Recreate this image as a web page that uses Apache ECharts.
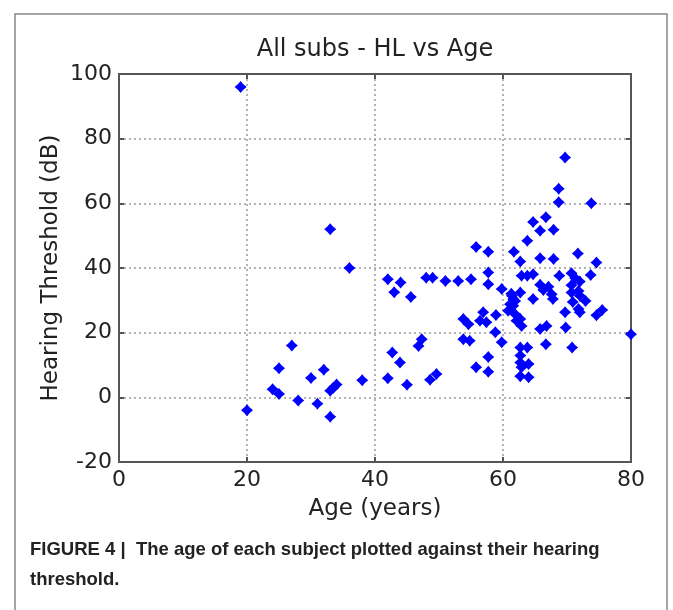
<!DOCTYPE html>
<html>
<head>
<meta charset="utf-8">
<script src="https://cdn.jsdelivr.net/npm/echarts@6/dist/echarts.min.js"></script>
<style>
html,body{margin:0;padding:0;background:#fff;}
#chart{width:673px;height:610px;}
</style>
</head>
<body>
<div id="chart"></div>
<script>
// Age (years) of each subject
const ages = [
  19, 20, 24, 25, 25, 27, 28, 30, 31, 32,
  33, 33, 33.5, 34, 33, 36, 38, 42, 45, 48.6,
  49.6, 42, 43, 44, 45.6, 42.7, 43.9, 46.8, 47.3, 48,
  49, 51, 53, 55, 53.8, 54.6, 53.8, 54.8, 55.8, 55.8,
  56.4, 56.9, 57.4, 57.7, 57.7, 57.7, 57.7, 57.7, 58.8, 58.9,
  59.8, 59.8, 60.8, 61.4, 61.9, 61.1, 62.7, 61.6, 61.6, 61.7,
  62.7, 61.9, 62.1, 62.7, 62.9, 62.7, 63.8, 62.7, 62.7, 64,
  62.9, 62.7, 64, 62.9, 63.8, 64.7, 61.3, 63.8, 64.7, 65.8,
  66.7, 67.9, 65.8, 67.9, 68.7, 68.7, 69.7, 73.8, 71.7, 74.6,
  68.8, 73.7, 70.7, 71.3, 72, 65.8, 66.3, 67.1, 67.6, 67.8,
  64.7, 70.7, 70.7, 71.8, 70.9, 72, 72.9, 71.8, 72, 69.7,
  74.6, 75.5, 65.8, 66.8, 66.7, 69.8, 70.8, 80
];
// Hearing threshold (dB) of each subject
const thresholds = [
  96, -4, 2.5, 1, 9, 16, -1, 6, -2, 8.5,
  -6, 2, 3, 4, 52, 40, 5.3, 5.9, 3.9, 5.4,
  7.2, 36.5, 32.5, 35.5, 31, 13.9, 10.8, 15.9, 18, 37,
  37, 36, 36, 36.5, 24.2, 22.6, 18, 17.5, 9.3, 46.5,
  23.7, 26.3, 23.2, 12.5, 7.9, 35, 38.6, 45, 20.1, 25.5,
  17, 33.5, 26.8, 31.4, 29.8, 28.8, 32.4, 30.4, 28.3, 45,
  42, 25.7, 23.7, 24.2, 22.1, 15.4, 15.4, 12.9, 10.8, 10.3,
  9.3, 6.5, 6.2, 37.6, 37.6, 38.1, 32, 48.4, 54.2, 51.5,
  55.7, 51.8, 43, 42.8, 64.5, 60.3, 74.2, 60, 44.5, 41.7,
  37.6, 37.8, 38.4, 36.8, 35.8, 34.8, 33.2, 34.2, 31.9, 30.4,
  30.4, 34.7, 32.4, 32.9, 29.5, 31.4, 29.8, 27.3, 26.3, 26.3,
  25.4, 27, 21.1, 22.1, 16.4, 21.6, 15.4, 19.5
];
const xTicks = [0, 20, 40, 60, 80];
const yTicks = [-20, 0, 20, 40, 60, 80, 100];

const points = ages.map((a, i) => [a, thresholds[i]]);
const FONT = '"DejaVu Sans", Arial, Helvetica, sans-serif';
const CAPFONT = '"Liberation Sans", Arial, Helvetica, sans-serif';
const axisColor = '#555';
const star = 'path://M0,-1 Q0.42,-0.42 1,0 Q0.42,0.42 0,1 Q-0.42,0.42 -1,0 Q-0.42,-0.42 0,-1 Z';

const chart = echarts.init(document.getElementById('chart'), null, {renderer: 'canvas'});
const baseX = {
  type: 'value', min: xTicks[0], max: xTicks[xTicks.length - 1], interval: 20
};
const baseY = {
  type: 'value', min: yTicks[0], max: yTicks[yTicks.length - 1], interval: 20
};
const lineAx = {show: true, onZero: false, lineStyle: {color: axisColor, width: 2}};
const tickAx = {show: true, inside: true, length: 5, lineStyle: {color: axisColor, width: 2}};
chart.setOption({
  animation: false,
  backgroundColor: '#fff',
  title: {
    text: 'All subs - HL vs Age',
    left: 370, top: 33, textAlign: 'center',
    textStyle: {fontFamily: FONT, fontSize: 24, fontWeight: 'normal', color: '#222'}
  },
  grid: {left: 119, top: 74, right: 42, bottom: 148, containLabel: false},
  xAxis: [
    Object.assign({}, baseX, {
      position: 'bottom',
      name: 'Age (years)', nameLocation: 'middle', nameGap: 36,
      nameTextStyle: {fontFamily: FONT, fontSize: 23, color: '#222'},
      axisLine: lineAx, axisTick: tickAx,
      axisLabel: {fontFamily: FONT, fontSize: 22, color: '#222', margin: 7},
      splitLine: {show: true, lineStyle: {color: '#9a9a9a', type: [2, 3], width: 1.5}}
    }),
    Object.assign({}, baseX, {
      position: 'top',
      axisLine: lineAx, axisTick: tickAx,
      axisLabel: {show: false},
      splitLine: {show: false}
    })
  ],
  yAxis: [
    Object.assign({}, baseY, {
      position: 'left',
      name: 'Hearing Threshold (dB)', nameLocation: 'middle', nameGap: 56, nameRotate: 90,
      nameMoveOverlap: false,
      nameTextStyle: {fontFamily: FONT, fontSize: 23, color: '#222'},
      axisLine: lineAx, axisTick: tickAx,
      axisLabel: {fontFamily: FONT, fontSize: 22, color: '#222', margin: 7},
      splitLine: {show: true, lineStyle: {color: '#9a9a9a', type: [2, 3], width: 1.5}}
    }),
    Object.assign({}, baseY, {
      position: 'right',
      axisLine: lineAx, axisTick: tickAx,
      axisLabel: {show: false},
      splitLine: {show: false}
    })
  ],
  series: [{
    type: 'scatter',
    xAxisIndex: 0, yAxisIndex: 0,
    data: points,
    symbol: star,
    symbolSize: [12, 12],
    itemStyle: {color: '#0000ff', opacity: 1},
    clip: false
  }],
  graphic: [
    {
      type: 'rect', silent: true, z: -1,
      shape: {x: 15, y: 14, width: 652, height: 620},
      style: {fill: 'none', stroke: '#888', lineWidth: 1.5}
    },
    {
      type: 'text', left: 30, top: 535,
      style: {
        text: 'FIGURE 4 |  The age of each subject plotted against their hearing\nthreshold.',
        font: 'bold 18.5px ' + CAPFONT, fill: '#222', lineHeight: 30
      }
    }
  ]
});
</script>
</body>
</html>
